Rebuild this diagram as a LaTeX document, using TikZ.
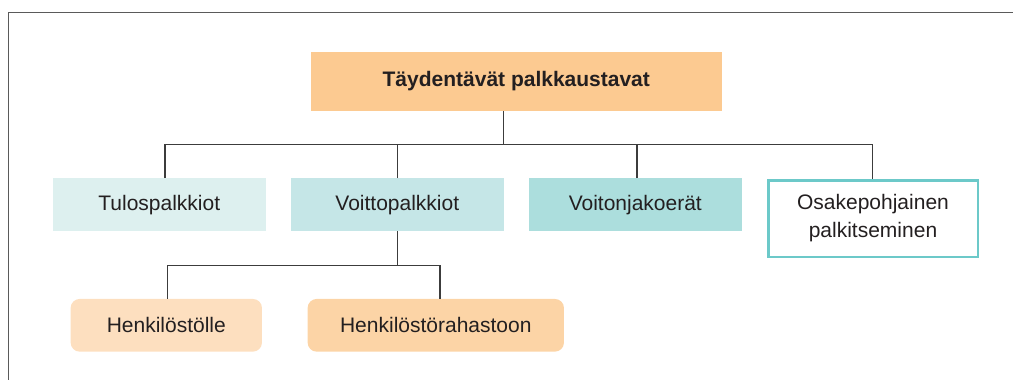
\documentclass[tikz,border=0pt]{standalone}
\usepackage{fontspec}
\setmainfont{Liberation Sans}
\definecolor{topc}{HTML}{FCCA91}
\definecolor{tulc}{HTML}{DDF0EF}
\definecolor{voic}{HTML}{C5E6E7}
\definecolor{vjac}{HTML}{ACDEDD}
\definecolor{osac}{HTML}{6CC9C9}
\definecolor{hena}{HTML}{FDDFBF}
\definecolor{henb}{HTML}{FCD4A6}
\definecolor{linec}{HTML}{3C3C3C}
\definecolor{framec}{HTML}{5A5A5A}
\definecolor{txtc}{HTML}{231F20}
\begin{document}
\begin{tikzpicture}[x=1pt,y=-1pt,
  box/.style={rectangle,inner sep=0pt,text=txtc,align=center,
    font=\fontsize{21}{28}\selectfont},
  conn/.style={draw=linec,line width=1.3pt}]
\useasboundingbox (0,0) rectangle (1013,380);
\draw[framec,line width=1.5pt] (8.5,380) -- (8.5,12.7) -- (1013,12.7);
\node[box,fill=topc,minimum width=410.7pt,minimum height=58.7pt,font=\fontsize{21}{28}\selectfont\bfseries] (top) at (516.3,81.3) {Täydentävät palkkaustavat};
\node[box,fill=tulc,minimum width=213.3pt,minimum height=52.7pt] (tul) at (159.3,204.7) {Tulospalkkiot};
\node[box,fill=voic,minimum width=213.3pt,minimum height=52.7pt] (voi) at (397.3,204.7) {Voittopalkkiot};
\node[box,fill=vjac,minimum width=212.7pt,minimum height=52.7pt] (vja) at (635.3,204.7) {Voitonjakoerät};
\node[box,draw=osac,line width=2.5pt,minimum width=209.5pt,minimum height=76.5pt] (osa) at (873,218.5) {Osakepohjainen\\palkitseminen};
\node[box,fill=hena,rounded corners=9pt,minimum width=191.3pt,minimum height=52.7pt] (hen1) at (166.3,325.3) {Henkilöstölle};
\node[box,fill=henb,rounded corners=9pt,minimum width=256.3pt,minimum height=52.7pt] (hen2) at (435.8,325.3) {Henkilöstörahastoon};
\coordinate (bus) at (0,144.7);
\coordinate (bus2) at (0,265.7);
\coordinate (topS) at ([xshift=-12.6pt]top.south);
\coordinate (tulN) at ([xshift=5.7pt]tul.north);
\coordinate (vjaN) at ([xshift=1.7pt]vja.north);
\coordinate (osaN) at ([xshift=-0.7pt]osa.north);
\coordinate (h1N) at ([xshift=1.4pt]hen1.north);
\coordinate (h2N) at ([xshift=4.2pt]hen2.north);
\draw[conn] (topS) -- (topS |- bus);
\draw[conn] (tulN) |- (osaN |- bus) -- (osaN);
\draw[conn] (voi.north) -- (voi.north |- bus);
\draw[conn] (vjaN) -- (vjaN |- bus);
\draw[conn] (voi.south) -- (voi.south |- bus2);
\draw[conn] (h1N) |- (h2N |- bus2) -- (h2N);
\end{tikzpicture}
\end{document}
